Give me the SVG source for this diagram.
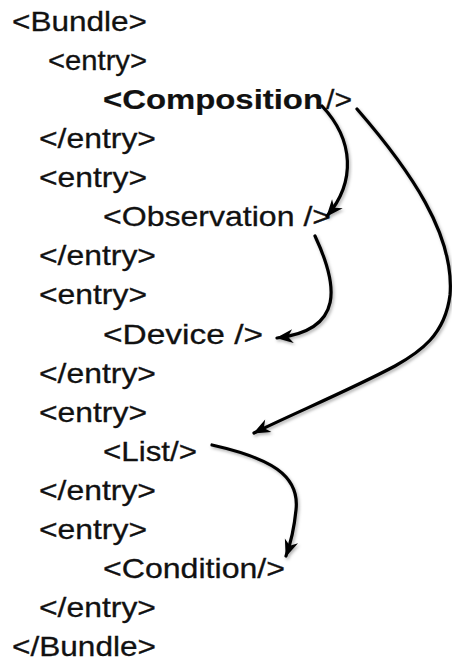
<svg xmlns="http://www.w3.org/2000/svg" width="452" height="663" viewBox="0 0 452 663">
  <style>
    text { font-family: "Liberation Sans", Arial, Helvetica, sans-serif; font-size: 28px; fill: #111; stroke: #111; stroke-width: 0.3; }
    .b { font-weight: bold; stroke-width: 0.2; }
    .arrow { fill: none; stroke: #000; stroke-width: 3.2; stroke-linecap: round; marker-end: url(#head); filter: url(#shadow); }
  </style>
  <defs>
    <marker id="head" markerUnits="userSpaceOnUse" viewBox="-17 -8 19 16" refX="0" refY="0" markerWidth="19" markerHeight="16" orient="auto">
      <path d="M1,0 L-16,-7 L-11,0 L-16,7 Z" fill="#000"/>
    </marker>
    <filter id="shadow" x="-20%" y="-20%" width="140%" height="140%">
      <feDropShadow dx="1.5" dy="2" stdDeviation="1.5" flood-color="#000" flood-opacity="0.3"/>
    </filter>
  </defs>
  <rect width="452" height="663" fill="#fff"/>

  <g id="bundle-open"><text x="12" y="31" textLength="135" lengthAdjust="spacingAndGlyphs">&lt;Bundle&gt;</text></g>
  <g id="entry1-open"><text x="48" y="70.1" textLength="99" lengthAdjust="spacingAndGlyphs">&lt;entry&gt;</text></g>
  <g id="composition">
    <text class="b" x="103" y="109.1" textLength="220" lengthAdjust="spacingAndGlyphs">&lt;Composition</text>
    <text x="326" y="109.1" textLength="26" lengthAdjust="spacingAndGlyphs">/&gt;</text>
  </g>
  <g id="entry1-close"><text x="39" y="148.2" textLength="117" lengthAdjust="spacingAndGlyphs">&lt;/entry&gt;</text></g>
  <g id="entry2-open"><text x="39" y="187.2" textLength="108" lengthAdjust="spacingAndGlyphs">&lt;entry&gt;</text></g>
  <g id="observation"><text x="103" y="226.3" textLength="228" lengthAdjust="spacingAndGlyphs">&lt;Observation /&gt;</text></g>
  <g id="entry2-close"><text x="39" y="265.4" textLength="117" lengthAdjust="spacingAndGlyphs">&lt;/entry&gt;</text></g>
  <g id="entry3-open"><text x="39" y="304.4" textLength="108" lengthAdjust="spacingAndGlyphs">&lt;entry&gt;</text></g>
  <g id="device"><text x="103" y="343.5" textLength="160" lengthAdjust="spacingAndGlyphs">&lt;Device /&gt;</text></g>
  <g id="entry3-close"><text x="39" y="382.5" textLength="117" lengthAdjust="spacingAndGlyphs">&lt;/entry&gt;</text></g>
  <g id="entry4-open"><text x="39" y="421.6" textLength="108" lengthAdjust="spacingAndGlyphs">&lt;entry&gt;</text></g>
  <g id="list"><text x="103" y="460.7" textLength="94" lengthAdjust="spacingAndGlyphs">&lt;List/&gt;</text></g>
  <g id="entry4-close"><text x="39" y="499.7" textLength="117" lengthAdjust="spacingAndGlyphs">&lt;/entry&gt;</text></g>
  <g id="entry5-open"><text x="39" y="538.8" textLength="108" lengthAdjust="spacingAndGlyphs">&lt;entry&gt;</text></g>
  <g id="condition"><text x="103" y="577.8" textLength="182" lengthAdjust="spacingAndGlyphs">&lt;Condition/&gt;</text></g>
  <g id="entry5-close"><text x="39" y="616.9" textLength="117" lengthAdjust="spacingAndGlyphs">&lt;/entry&gt;</text></g>
  <g id="bundle-close"><text x="12" y="656" textLength="144" lengthAdjust="spacingAndGlyphs">&lt;/Bundle&gt;</text></g>

  <g id="connectors">
    <path class="arrow" d="M322,106 C354,140 356,182 327,216"/>
    <path class="arrow" d="M357,109 C410,170 455,235 450,295 C445,335 420,352 395,366 C350,390 290,415 254,433"/>
    <path class="arrow" d="M315,236 C338,285 345,330 277,338"/>
    <path class="arrow" d="M212,445 C270,458 300,475 296,510 C294,530 290,545 286,556"/>
  </g>
</svg>
